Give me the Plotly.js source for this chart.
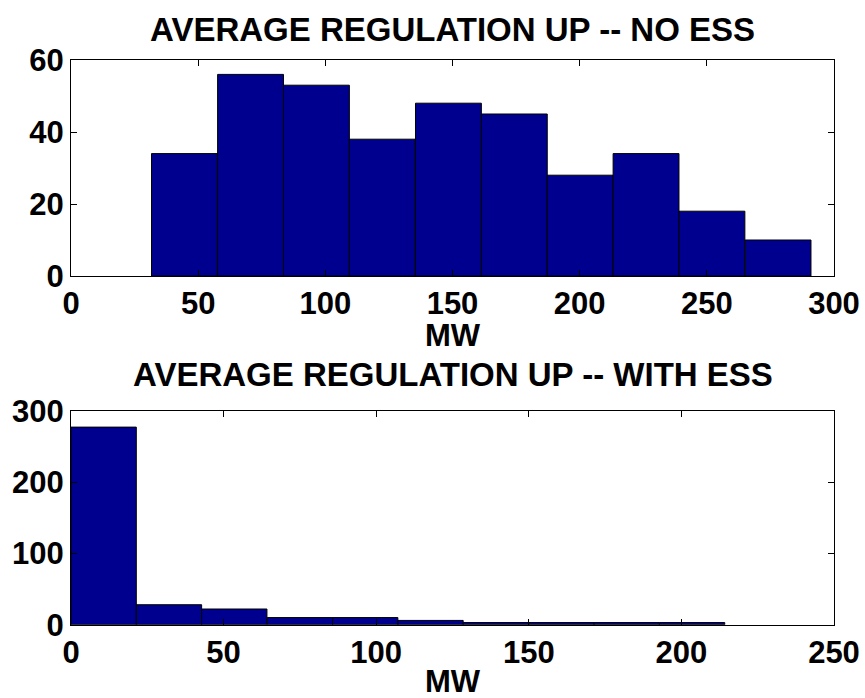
<!DOCTYPE html>
<html>
<head>
<meta charset="utf-8">
<script src="https://cdn.plot.ly/plotly-3.0.1.min.js"></script>
<style>
  html, body { margin: 0; padding: 0; background: #fff; }
  #chart { width: 865px; height: 698px; }
</style>
</head>
<body>
<div id="chart"></div>
<script>
// ---- Data ----
const topTitle = "AVERAGE REGULATION UP -- NO ESS";
const bottomTitle = "AVERAGE REGULATION UP -- WITH ESS";
const xLabel = "MW";

const topBinCenters = [44.6, 70.6, 96.5, 122.4, 148.4, 174.3, 200.2, 226.1, 252.0, 278.0];
const topCounts     = [34, 56, 53, 38, 48, 45, 28, 34, 18, 10];
const topBinWidth   = 25.9;

const bottomBinCenters = [10.7, 32.1, 53.5, 75.0, 96.4, 117.8, 139.2, 160.7, 182.1, 203.5];
const bottomCounts     = [277, 28, 22, 10, 10, 6, 3, 3, 3, 3];
const bottomBinWidth   = 21.4;

const topXTicks = [0, 50, 100, 150, 200, 250, 300];
const topYTicks = [0, 20, 40, 60];
const bottomXTicks = [0, 50, 100, 150, 200, 250];
const bottomYTicks = [0, 100, 200, 300];

// ---- Styling ----
const W = 865, H = 698;
const FONT = "Liberation Sans, Arial, sans-serif";
const tickFont = { family: FONT, size: 31, color: "#000", weight: "bold" };
const titleFont = { family: FONT, size: 33, color: "#000", weight: "bold" };
const barColor = "rgb(0,0,143)";

function py(px) { return 1 - px / H; }
function pxX(px) { return px / W; }

const xDom = [pxX(71), pxX(834)];

function axisBase(ticks, range) {
  return {
    range: range,
    tickmode: "array",
    tickvals: ticks,
    ticktext: ticks.map(String),
    showgrid: false,
    zeroline: false,
    showline: true,
    linecolor: "#000",
    linewidth: 1,
    mirror: "ticks",
    ticks: "inside",
    ticklen: 6,
    tickcolor: "#000",
    tickwidth: 1,
    tickfont: tickFont,
    fixedrange: true
  };
}

const traces = [
  {
    type: "bar",
    x: topBinCenters,
    y: topCounts,
    width: topBinCenters.map(() => topBinWidth),
    marker: { color: barColor, line: { color: "#000", width: 1 } },
    xaxis: "x", yaxis: "y",
    hoverinfo: "x+y"
  },
  {
    type: "bar",
    x: bottomBinCenters,
    y: bottomCounts,
    width: bottomBinCenters.map(() => bottomBinWidth),
    marker: { color: barColor, line: { color: "#000", width: 1 } },
    xaxis: "x2", yaxis: "y2",
    hoverinfo: "x+y"
  }
];

const layout = {
  width: W, height: H,
  margin: { l: 0, r: 0, t: 0, b: 0 },
  paper_bgcolor: "#fff",
  plot_bgcolor: "#fff",
  showlegend: false,
  bargap: 0,
  xaxis: Object.assign(axisBase(topXTicks, [0, 300]), { domain: xDom, anchor: "y" }),
  yaxis: Object.assign(axisBase(topYTicks, [0, 60]), { domain: [py(276), py(60)], anchor: "x" }),
  xaxis2: Object.assign(axisBase(bottomXTicks, [0, 250]), { domain: xDom, anchor: "y2" }),
  yaxis2: Object.assign(axisBase(bottomYTicks, [0, 300]), { domain: [py(624.7), py(410.7)], anchor: "x2" }),
  annotations: [
    { text: topTitle, xref: "paper", yref: "paper", x: (xDom[0] + xDom[1]) / 2, y: py(29),
      xanchor: "center", yanchor: "middle", showarrow: false, font: titleFont },
    { text: xLabel, xref: "paper", yref: "paper", x: (xDom[0] + xDom[1]) / 2, y: py(335),
      xanchor: "center", yanchor: "middle", showarrow: false, font: tickFont },
    { text: bottomTitle, xref: "paper", yref: "paper", x: (xDom[0] + xDom[1]) / 2, y: py(374),
      xanchor: "center", yanchor: "middle", showarrow: false, font: titleFont },
    { text: xLabel, xref: "paper", yref: "paper", x: (xDom[0] + xDom[1]) / 2, y: py(681),
      xanchor: "center", yanchor: "middle", showarrow: false, font: tickFont }
  ]
};

Plotly.newPlot("chart", traces, layout, { staticPlot: true, displayModeBar: false });
</script>
</body>
</html>
